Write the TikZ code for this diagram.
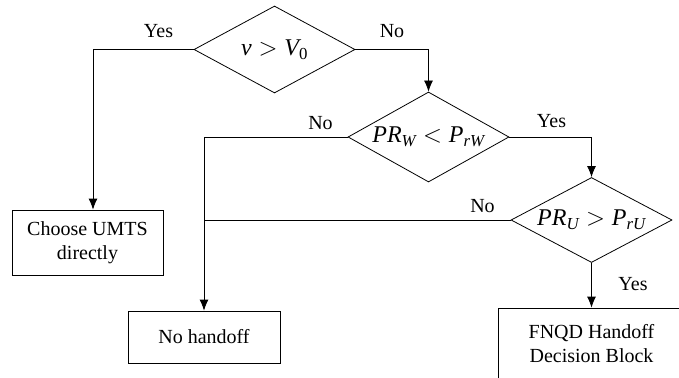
\documentclass[tikz,border=0pt]{standalone}
\usepackage{amsmath}
\usepackage{fontspec}
\setmainfont{Liberation Serif}
\usetikzlibrary{arrows.meta,shapes.geometric}
\tikzstyle{decision}=[diamond, draw, inner sep=0pt, minimum width=161pt, minimum height=87pt, font=\fontsize{24}{28}\selectfont]
\tikzstyle{block}=[rectangle, draw, inner sep=0pt, align=center, font=\fontsize{20}{24}\selectfont]
\tikzstyle{answer}=[inner sep=0pt, anchor=base, font=\fontsize{20}{24}\selectfont]
\newcommand{\decision}{\node[decision]}
\newcommand{\cond}[1]{\makebox[0pt]{$#1$}}

\begin{document}
\begin{tikzpicture}[x=1pt, y=-1pt, line width=0.8pt
    ,flow/.style={draw, -{Latex[length=11pt,width=9pt]}}
]
\useasboundingbox (0,0) rectangle (679,377);
\decision (speed) at (274.5,49.5) {\cond{\textit{v} > \textit{V}_{\text{0}}}};
\decision[minimum height=90pt] (wlan) at (428.5,137) {\cond{\textit{PR}_{\textit{W}} < \textit{P}_{\textit{rW}}}};
\decision[minimum height=85pt] (umts) at (591.5,220) {\cond{\textit{PR}_{\textit{U}} > \textit{P}_{\textit{rU}}}};
\node[block, minimum width=151pt, minimum height=65pt] (choose) at (87.5,242.5) {Choose UMTS\\directly};
\node[block, minimum width=152pt, minimum height=52pt] (nohandoff) at (204,337) {No handoff};
\node[block, minimum width=187pt, minimum height=72pt] (fnqd) at (591.5,344) {FNQD Handoff\\Decision Block};
% branch labels
\node[answer] (speedyes) at (158.5,38) {Yes};
\node[answer] (speedno) at (392,38) {No};
\node[answer] (wlanno) at (320.5,129) {No};
\node[answer] (wlanyes) at (551.5,127) {Yes};
\node[answer] (umtsno) at (482.5,212) {No};
\node[answer] (umtsyes) at (633,290) {Yes};
% connectors
\draw[flow] (speed.west) -| ([xshift=5.5pt]choose.north);
\draw[flow] (speed.east) -| (wlan.north);
\draw[flow] (wlan.west) -| (nohandoff.north);
\draw[flow] (wlan.east) -| (umts.north);
\draw (umts.west) -- (umts.west -| nohandoff.north);
\draw[flow] (umts.south) -- (fnqd.north);
\end{tikzpicture}
\end{document}
